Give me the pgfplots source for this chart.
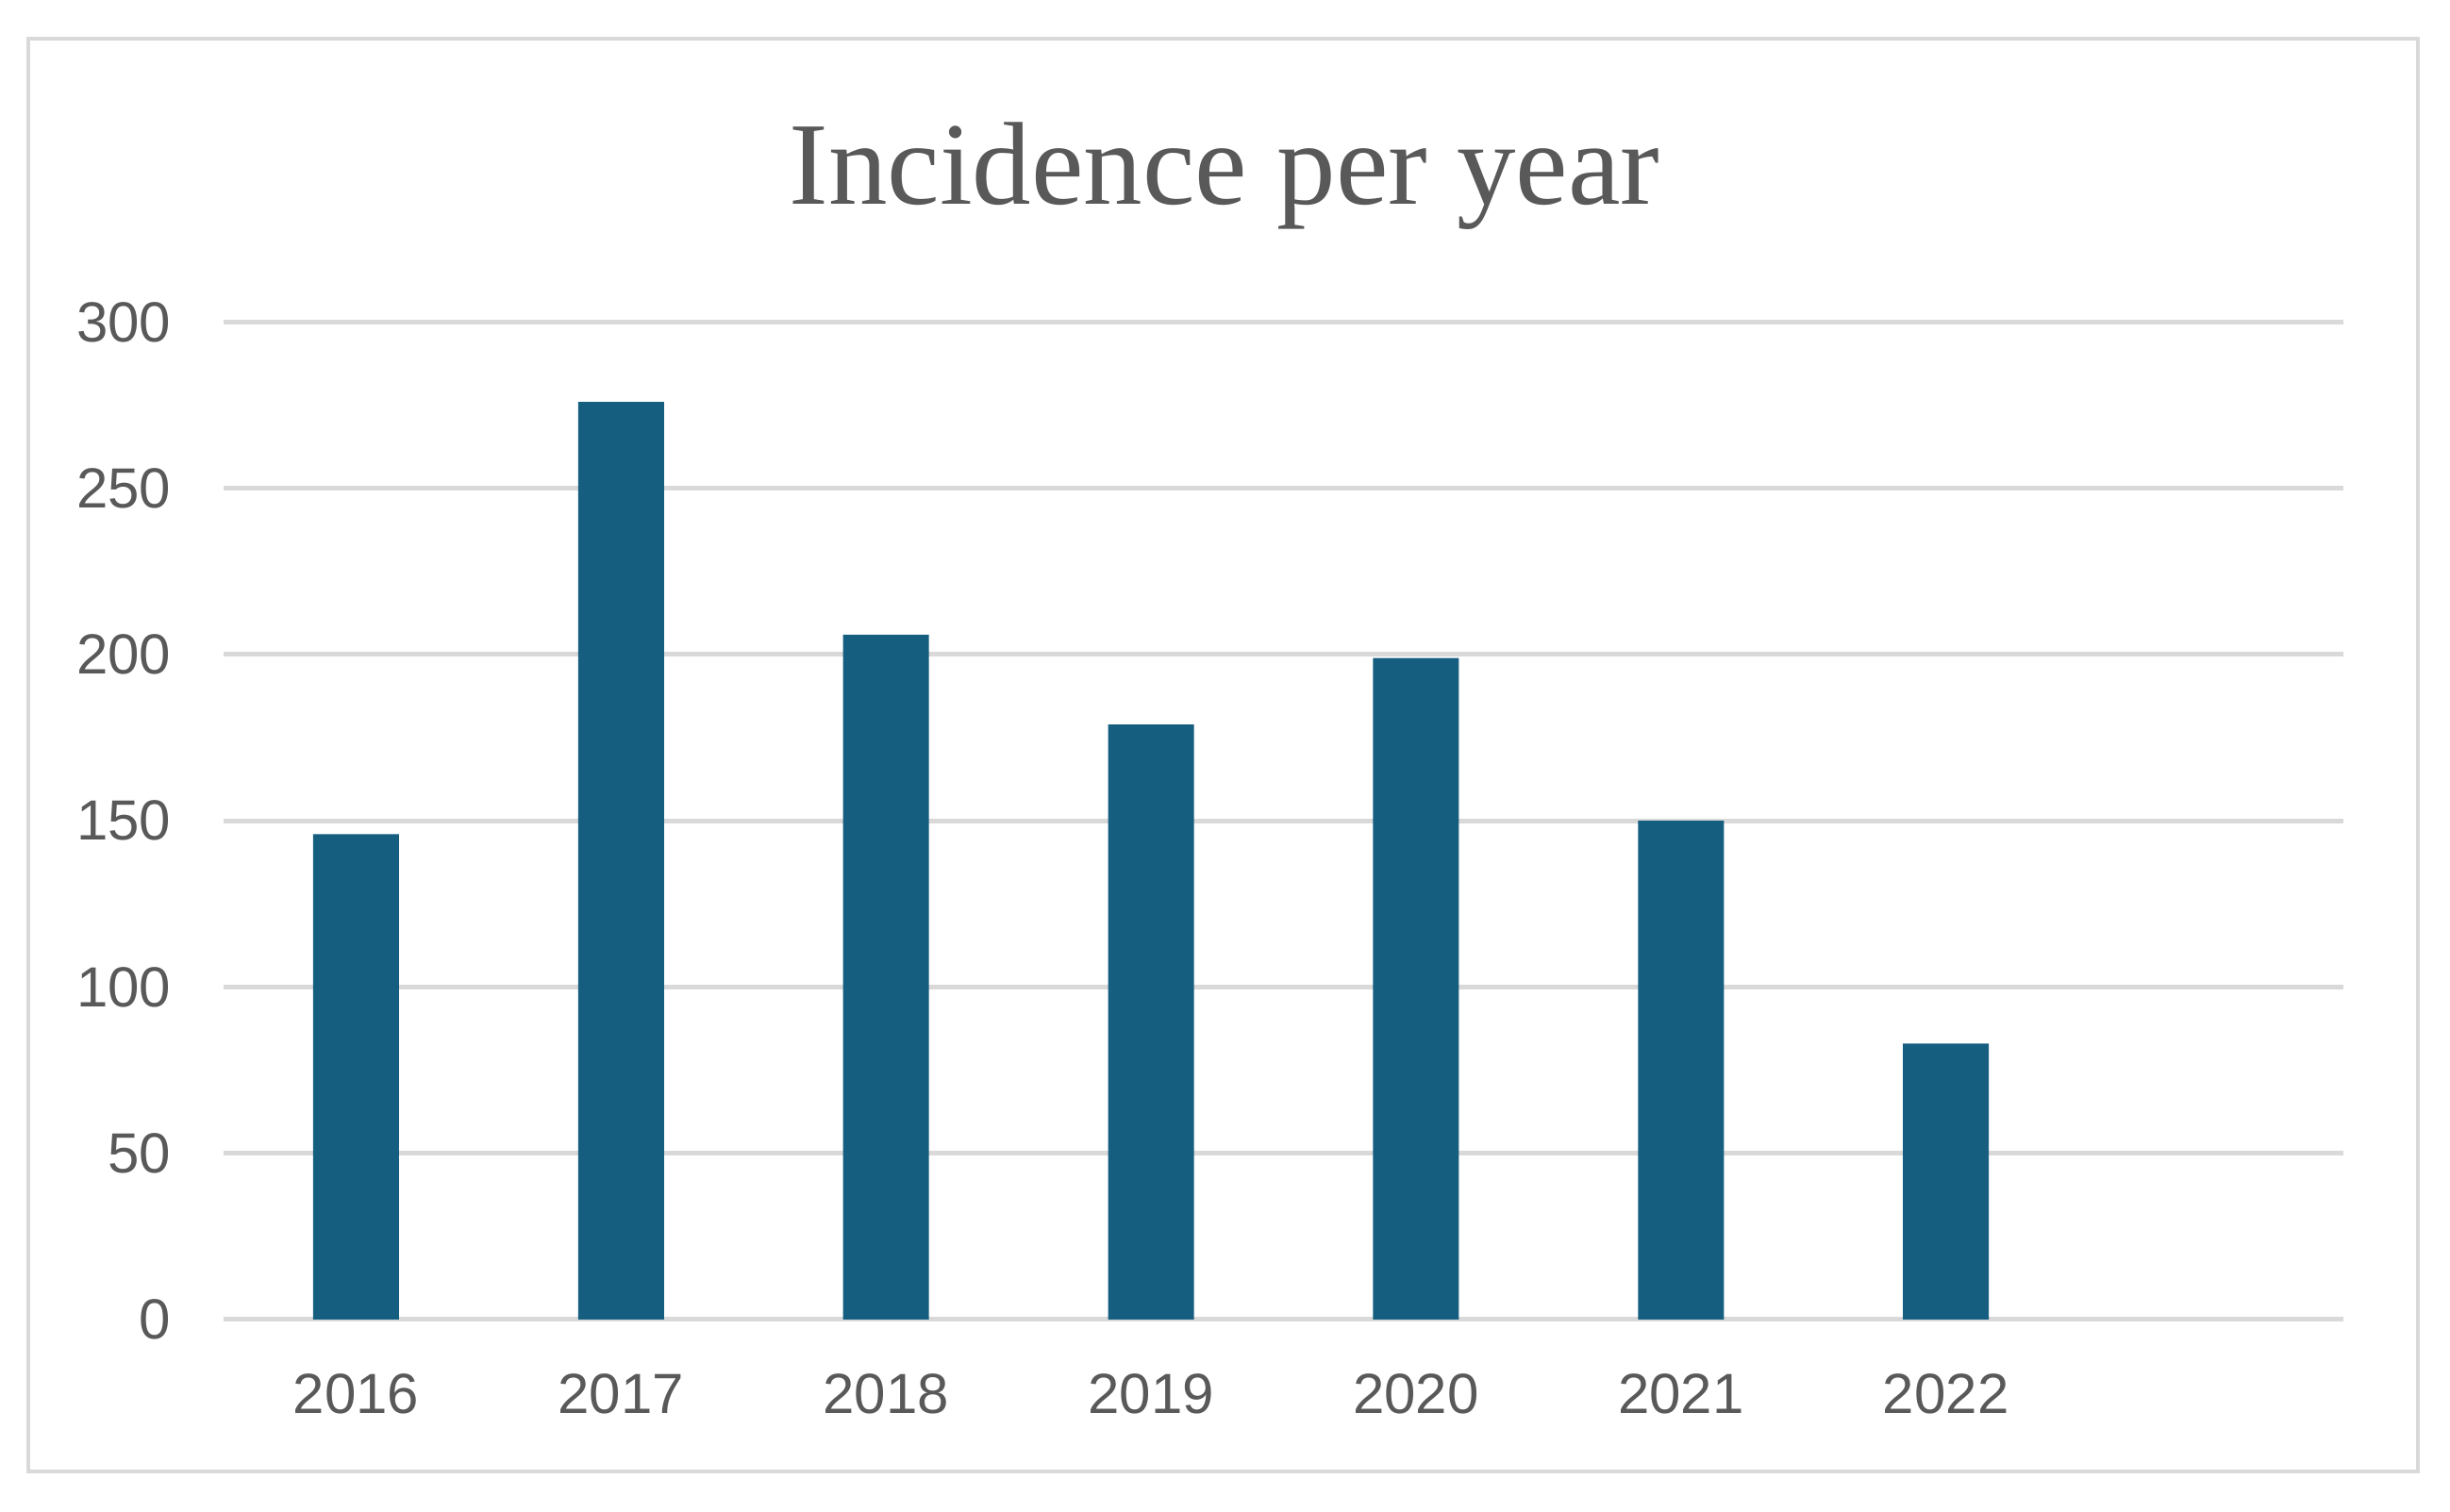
\documentclass[border=0pt]{standalone}
\usepackage{pgfplots}
\pgfplotsset{compat=1.18}
\usepackage{fontspec}
\setmainfont{Liberation Sans}
\newfontfamily\titlefont{Liberation Serif}
\definecolor{barblue}{RGB}{22,94,128}
\definecolor{gridgray}{RGB}{217,217,217}
\definecolor{textgray}{RGB}{89,89,89}
\begin{document}
\begin{tikzpicture}
\begin{axis}[
  name=ax,
  at={(0,0)}, anchor=south west,
  scale only axis,
  width=449.4pt, height=211.5pt,
  xmin=-0.5, xmax=7.5,
  ymin=0, ymax=300,
  ytick={0,50,...,300},
  xtick={0,1,2,3,4,5,6},
  xticklabels={2016,2017,2018,2019,2020,2021,2022},
  axis line style={draw=none},
  major tick length=0pt,
  ymajorgrids,
  grid style={gridgray, line width=1pt},
  tick label style={font=\fontsize{12}{14}\selectfont, text=textgray},
  yticklabel style={xshift=-7.6pt},
  xticklabel style={yshift=-8pt},
  /pgf/number format/assume math mode=true,
  ybar, bar width=18.2pt,
  clip=false,
]
\addplot[fill=barblue, draw=none] coordinates {
  (0,146) (1,276) (2,206) (3,179) (4,199) (5,150) (6,83)
};
\end{axis}
\path ([xshift=-47.4pt,yshift=-40.8pt]ax.south west) rectangle ([xshift=472pt,yshift=279.8pt]ax.south west);
\draw[gridgray, line width=0.8pt] ([xshift=-41.4pt,yshift=-32.2pt]ax.south west) rectangle ([xshift=465.2pt,yshift=271.5pt]ax.south west);
\node[anchor=base, text=textgray, inner sep=0pt, font=\titlefont\fontsize{25}{30}\selectfont] at ([xshift=212.2pt,yshift=236.5pt]ax.south west) {Incidence per year};
\end{tikzpicture}
\end{document}
